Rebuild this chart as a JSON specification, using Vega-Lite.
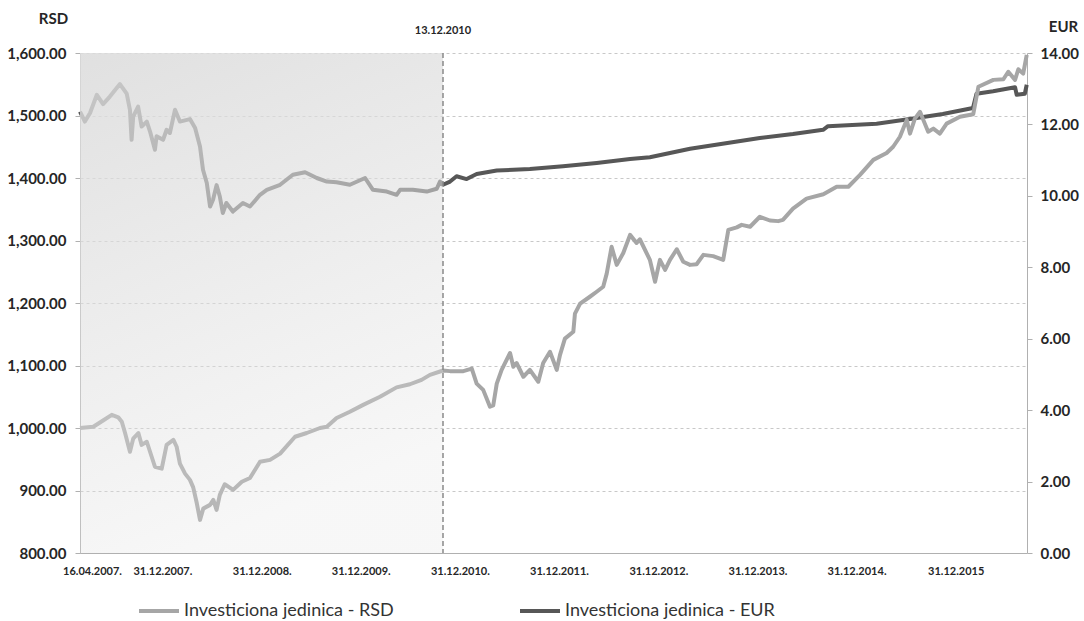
{
  "$schema": "https://vega.github.io/schema/vega-lite/v6.json",
  "width": 947,
  "height": 500,
  "autosize": {"type": "none"},
  "padding": {"left": 80, "top": 53, "right": 57, "bottom": 68},
  "background": "white",
  "config": {
    "font": "Lato",
    "view": {"stroke": null},
    "axis": {"labelFont": "Lato", "labelFontWeight": "bold", "labelColor": "#262626", "titleFont": "Lato", "titleFontWeight": "bold", "titleColor": "#262626", "domainColor": "#b0b0b0", "tickColor": "#b0b0b0"}
  },
  "datasets": {
    "eur": [
      {"date": "2007-04-16", "value": 12.36}, {"date": "2007-05-04", "value": 12.08}, {"date": "2007-05-23", "value": 12.32},
      {"date": "2007-06-17", "value": 12.83}, {"date": "2007-07-10", "value": 12.57}, {"date": "2007-08-04", "value": 12.78},
      {"date": "2007-09-10", "value": 13.13}, {"date": "2007-10-05", "value": 12.86}, {"date": "2007-10-17", "value": 12.41},
      {"date": "2007-10-23", "value": 11.57}, {"date": "2007-10-29", "value": 12.22}, {"date": "2007-11-16", "value": 12.5},
      {"date": "2007-11-29", "value": 11.94}, {"date": "2007-12-18", "value": 12.08}, {"date": "2007-12-30", "value": 11.8},
      {"date": "2008-01-17", "value": 11.29}, {"date": "2008-01-23", "value": 11.67}, {"date": "2008-02-16", "value": 11.57},
      {"date": "2008-02-29", "value": 11.85}, {"date": "2008-03-12", "value": 11.76}, {"date": "2008-03-31", "value": 12.41},
      {"date": "2008-04-18", "value": 12.08}, {"date": "2008-05-25", "value": 12.15}, {"date": "2008-06-13", "value": 11.9},
      {"date": "2008-07-01", "value": 11.38}, {"date": "2008-07-12", "value": 10.73}, {"date": "2008-07-26", "value": 10.36},
      {"date": "2008-08-07", "value": 9.7}, {"date": "2008-08-18", "value": 9.89}, {"date": "2008-08-31", "value": 10.3},
      {"date": "2008-09-12", "value": 9.98}, {"date": "2008-09-23", "value": 9.52}, {"date": "2008-10-06", "value": 9.8},
      {"date": "2008-10-30", "value": 9.56}, {"date": "2008-12-06", "value": 9.8}, {"date": "2009-01-01", "value": 9.7},
      {"date": "2009-02-07", "value": 10.03}, {"date": "2009-03-04", "value": 10.17}, {"date": "2009-04-22", "value": 10.31},
      {"date": "2009-06-08", "value": 10.59}, {"date": "2009-07-23", "value": 10.66}, {"date": "2009-09-04", "value": 10.5},
      {"date": "2009-10-11", "value": 10.4}, {"date": "2009-11-16", "value": 10.38}, {"date": "2010-01-04", "value": 10.31},
      {"date": "2010-03-01", "value": 10.5}, {"date": "2010-03-30", "value": 10.17}, {"date": "2010-05-20", "value": 10.12},
      {"date": "2010-06-25", "value": 10.03}, {"date": "2010-07-08", "value": 10.17}, {"date": "2010-08-24", "value": 10.17},
      {"date": "2010-10-14", "value": 10.12}, {"date": "2010-11-20", "value": 10.2}, {"date": "2010-12-02", "value": 10.4},
      {"date": "2010-12-13", "value": 10.31}, {"date": "2011-01-08", "value": 10.4}, {"date": "2011-02-01", "value": 10.55},
      {"date": "2011-03-10", "value": 10.47}, {"date": "2011-04-16", "value": 10.61}, {"date": "2011-06-29", "value": 10.71},
      {"date": "2011-10-29", "value": 10.75}, {"date": "2012-02-28", "value": 10.83}, {"date": "2012-07-01", "value": 10.92},
      {"date": "2012-11-01", "value": 11.03}, {"date": "2013-01-13", "value": 11.08}, {"date": "2013-03-28", "value": 11.2},
      {"date": "2013-06-10", "value": 11.32}, {"date": "2014-02-22", "value": 11.62}, {"date": "2014-06-24", "value": 11.73},
      {"date": "2014-10-13", "value": 11.85}, {"date": "2014-10-31", "value": 11.95}, {"date": "2015-04-28", "value": 12.02},
      {"date": "2015-08-29", "value": 12.15}, {"date": "2015-12-28", "value": 12.29}, {"date": "2016-04-17", "value": 12.46},
      {"date": "2016-04-30", "value": 12.86}, {"date": "2016-06-30", "value": 12.93}, {"date": "2016-09-19", "value": 13.04},
      {"date": "2016-09-25", "value": 12.83}, {"date": "2016-10-25", "value": 12.86}, {"date": "2016-11-01", "value": 13.11}
    ],
    "rsd": [
      {"date": "2007-04-16", "value": 1000}, {"date": "2007-06-04", "value": 1002}, {"date": "2007-07-10", "value": 1012},
      {"date": "2007-08-11", "value": 1021}, {"date": "2007-09-04", "value": 1017}, {"date": "2007-09-17", "value": 1010},
      {"date": "2007-09-29", "value": 992}, {"date": "2007-10-17", "value": 962}, {"date": "2007-10-29", "value": 983},
      {"date": "2007-11-17", "value": 992}, {"date": "2007-11-29", "value": 973}, {"date": "2007-12-18", "value": 978},
      {"date": "2008-01-17", "value": 938}, {"date": "2008-02-11", "value": 935}, {"date": "2008-02-29", "value": 973},
      {"date": "2008-03-25", "value": 981}, {"date": "2008-04-06", "value": 970}, {"date": "2008-04-18", "value": 943},
      {"date": "2008-05-07", "value": 927}, {"date": "2008-05-25", "value": 917}, {"date": "2008-06-06", "value": 905},
      {"date": "2008-06-19", "value": 880}, {"date": "2008-07-01", "value": 853}, {"date": "2008-07-13", "value": 871},
      {"date": "2008-08-07", "value": 877}, {"date": "2008-08-19", "value": 885}, {"date": "2008-08-31", "value": 869},
      {"date": "2008-09-12", "value": 893}, {"date": "2008-09-30", "value": 910}, {"date": "2008-10-31", "value": 901},
      {"date": "2008-12-02", "value": 914}, {"date": "2009-01-01", "value": 920}, {"date": "2009-02-07", "value": 946},
      {"date": "2009-03-16", "value": 949}, {"date": "2009-04-22", "value": 959}, {"date": "2009-06-16", "value": 986},
      {"date": "2009-07-29", "value": 992}, {"date": "2009-09-16", "value": 1000}, {"date": "2009-10-11", "value": 1002},
      {"date": "2009-11-16", "value": 1016}, {"date": "2010-01-04", "value": 1026}, {"date": "2010-02-22", "value": 1037},
      {"date": "2010-04-25", "value": 1050}, {"date": "2010-06-25", "value": 1065}, {"date": "2010-08-13", "value": 1070},
      {"date": "2010-09-25", "value": 1077}, {"date": "2010-10-26", "value": 1085}, {"date": "2010-12-13", "value": 1092},
      {"date": "2011-01-08", "value": 1091}, {"date": "2011-02-26", "value": 1091}, {"date": "2011-03-29", "value": 1095},
      {"date": "2011-04-16", "value": 1071}, {"date": "2011-05-10", "value": 1061}, {"date": "2011-06-04", "value": 1034},
      {"date": "2011-06-16", "value": 1036}, {"date": "2011-06-29", "value": 1071}, {"date": "2011-07-17", "value": 1093},
      {"date": "2011-08-17", "value": 1120}, {"date": "2011-08-29", "value": 1098}, {"date": "2011-09-10", "value": 1104},
      {"date": "2011-10-05", "value": 1082}, {"date": "2011-10-29", "value": 1093}, {"date": "2011-11-29", "value": 1074},
      {"date": "2011-12-17", "value": 1104}, {"date": "2012-01-11", "value": 1122}, {"date": "2012-02-05", "value": 1093},
      {"date": "2012-02-17", "value": 1117}, {"date": "2012-03-06", "value": 1143}, {"date": "2012-04-06", "value": 1154},
      {"date": "2012-04-12", "value": 1183}, {"date": "2012-05-01", "value": 1199}, {"date": "2012-06-06", "value": 1210},
      {"date": "2012-07-01", "value": 1218}, {"date": "2012-07-25", "value": 1226}, {"date": "2012-08-07", "value": 1247},
      {"date": "2012-08-25", "value": 1290}, {"date": "2012-09-13", "value": 1261}, {"date": "2012-10-07", "value": 1280},
      {"date": "2012-11-01", "value": 1309}, {"date": "2012-11-25", "value": 1296}, {"date": "2012-12-07", "value": 1302},
      {"date": "2013-01-13", "value": 1269}, {"date": "2013-02-01", "value": 1234}, {"date": "2013-02-19", "value": 1269},
      {"date": "2013-03-10", "value": 1253}, {"date": "2013-03-28", "value": 1269}, {"date": "2013-04-22", "value": 1286},
      {"date": "2013-05-16", "value": 1266}, {"date": "2013-06-10", "value": 1261}, {"date": "2013-07-04", "value": 1262},
      {"date": "2013-07-29", "value": 1277}, {"date": "2013-09-03", "value": 1275}, {"date": "2013-10-10", "value": 1269},
      {"date": "2013-10-29", "value": 1317}, {"date": "2013-11-29", "value": 1321}, {"date": "2013-12-17", "value": 1325},
      {"date": "2014-01-17", "value": 1322}, {"date": "2014-02-22", "value": 1338}, {"date": "2014-03-31", "value": 1332},
      {"date": "2014-05-01", "value": 1331}, {"date": "2014-05-18", "value": 1333}, {"date": "2014-06-24", "value": 1351},
      {"date": "2014-08-13", "value": 1367}, {"date": "2014-10-14", "value": 1374}, {"date": "2014-12-02", "value": 1386},
      {"date": "2015-01-14", "value": 1386}, {"date": "2015-02-26", "value": 1405}, {"date": "2015-04-16", "value": 1429},
      {"date": "2015-06-04", "value": 1440}, {"date": "2015-06-28", "value": 1450}, {"date": "2015-07-23", "value": 1466},
      {"date": "2015-08-17", "value": 1493}, {"date": "2015-08-29", "value": 1471}, {"date": "2015-09-16", "value": 1495},
      {"date": "2015-10-05", "value": 1506}, {"date": "2015-10-17", "value": 1493}, {"date": "2015-11-04", "value": 1474},
      {"date": "2015-11-23", "value": 1479}, {"date": "2015-12-17", "value": 1471}, {"date": "2016-01-11", "value": 1487},
      {"date": "2016-02-29", "value": 1498}, {"date": "2016-04-18", "value": 1502}, {"date": "2016-05-07", "value": 1546},
      {"date": "2016-07-01", "value": 1557}, {"date": "2016-08-07", "value": 1558}, {"date": "2016-08-25", "value": 1570},
      {"date": "2016-09-19", "value": 1557}, {"date": "2016-10-01", "value": 1574}, {"date": "2016-10-19", "value": 1567},
      {"date": "2016-11-01", "value": 1597}
    ],
    "period": [{"start": "2007-04-16", "end": "2010-12-13", "label": "13.12.2010"}]
  },
  "layer": [
    {
      "data": {"name": "eur"},
      "mark": {"type": "line", "strokeWidth": 4, "strokeJoin": "round"},
      "encoding": {
        "x": {
          "field": "date", "type": "temporal",
          "scale": {"type": "utc", "domain": [{"year": 2007, "month": 4, "date": 16, "utc": true}, {"year": 2016, "month": 11, "date": 2, "utc": true}]},
          "axis": {
            "title": null, "ticks": false, "grid": false, "labelFontSize": 11, "labelPadding": 12, "labelOffset": 12, "labelFlush": false,
            "values": [
              {"year": 2007, "month": 4, "date": 16, "utc": true}, {"year": 2007, "month": 12, "date": 31, "utc": true},
              {"year": 2008, "month": 12, "date": 31, "utc": true}, {"year": 2009, "month": 12, "date": 31, "utc": true},
              {"year": 2010, "month": 12, "date": 31, "utc": true}, {"year": 2011, "month": 12, "date": 31, "utc": true},
              {"year": 2012, "month": 12, "date": 31, "utc": true}, {"year": 2013, "month": 12, "date": 31, "utc": true},
              {"year": 2014, "month": 12, "date": 31, "utc": true}, {"year": 2015, "month": 12, "date": 31, "utc": true}
            ],
            "labelExpr": "utcFormat(datum.value, '%d.%m.%Y') + (utcyear(datum.value) == 2015 ? '' : '.')",
            "labelOverlap": false
          }
        },
        "y": {
          "field": "value", "type": "quantitative",
          "scale": {"domain": [0, 14], "nice": false, "zero": false},
          "axis": {"orient": "right", "values": [0, 2, 4, 6, 8, 10, 12, 14], "format": ".2f", "grid": false, "labelFontSize": 15, "tickSize": 5, "labelPadding": 8, "title": "EUR", "titleAngle": 0, "titleFontSize": 15, "titleX": 36, "titleY": -27, "titleAlign": "center", "titleBaseline": "middle"}
        },
        "color": {
          "datum": "Investiciona jedinica - EUR",
          "scale": {"domain": ["Investiciona jedinica - RSD", "Investiciona jedinica - EUR"], "range": ["#a6a6a6", "#575757"]},
          "legend": {"orient": "none", "legendX": 57, "legendY": 536, "direction": "horizontal", "title": null, "symbolType": "stroke", "symbolSize": 1600, "symbolStrokeWidth": 4, "labelFontSize": 18, "labelFont": "Lato", "labelColor": "#333333", "columnPadding": 118, "labelOffset": 3, "labelLimit": 400}
        }
      }
    },
    {
      "layer": [
        {
          "data": {"name": "rsd"},
          "mark": {"type": "line", "strokeWidth": 4, "strokeJoin": "round"},
          "encoding": {
            "x": {"field": "date", "type": "temporal"},
            "y": {
              "field": "value", "type": "quantitative",
              "scale": {"domain": [800, 1600], "nice": false, "zero": false},
              "axis": {"orient": "left", "values": [800, 850, 900, 950, 1000, 1050, 1100, 1150, 1200, 1250, 1300, 1350, 1400, 1450, 1500, 1550, 1600], "format": ",.2f", "grid": true, "gridColor": "#c8c8c8", "gridDash": [3, 3], "labelFontSize": 15, "tickSize": 5, "labelPadding": 9, "title": "RSD", "titleAngle": 0, "titleFontSize": 15, "titleX": -27, "titleY": -35, "titleAlign": "center", "titleBaseline": "middle"}
            },
            "color": {"datum": "Investiciona jedinica - RSD"}
          }
        },
        {
          "data": {"name": "period"},
          "mark": {"type": "text", "dy": -22, "fontWeight": "bold", "fontSize": 11, "font": "Lato", "color": "#262626", "align": "center", "baseline": "middle"},
          "encoding": {
            "x": {"field": "end", "type": "temporal"},
            "y": {"datum": 1600, "type": "quantitative"},
            "text": {"field": "label"}
          }
        }
      ]
    },
    {
      "data": {"name": "period"},
      "mark": {"type": "rect", "fill": {"gradient": "linear", "x1": 0, "y1": 0, "x2": 0.3, "y2": 1, "stops": [{"offset": 0, "color": "rgba(220,220,220,0.88)"}, {"offset": 1, "color": "rgba(224,224,224,0.25)"}]}},
      "encoding": {
        "x": {"field": "start", "type": "temporal"},
        "x2": {"field": "end"}
      }
    },
    {
      "data": {"name": "period"},
      "mark": {"type": "rule", "color": "#8a8a8a", "strokeWidth": 1.5, "strokeDash": [5, 3]},
      "encoding": {
        "x": {"field": "end", "type": "temporal"}
      }
    }
  ],
  "resolve": {"scale": {"y": "independent"}}
}
